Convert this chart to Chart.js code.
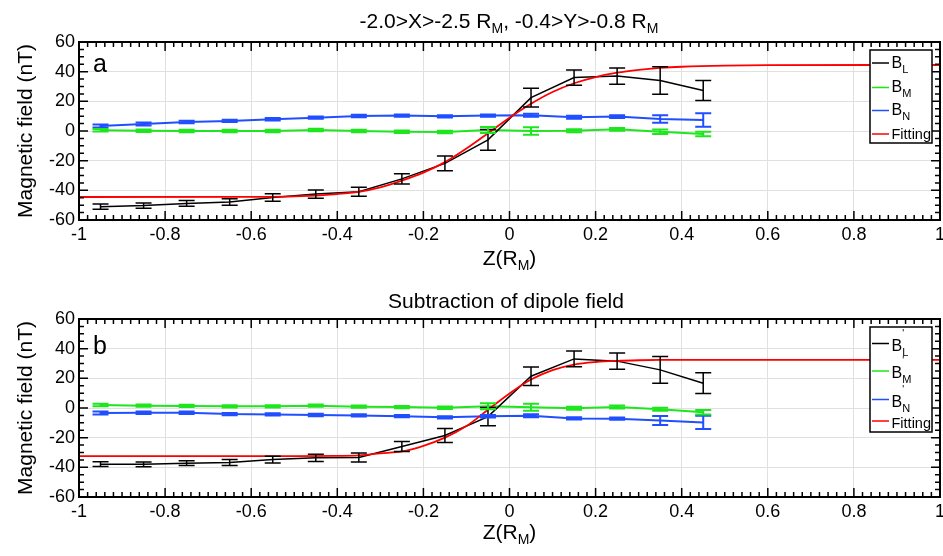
<!DOCTYPE html>
<html>
<head>
<meta charset="utf-8">
<script src="https://cdn.jsdelivr.net/npm/chart.js@4.4.1/dist/chart.umd.min.js"></script>
<style>
  html, body { margin: 0; padding: 0; background: #fff; }
  #wrap { position: relative; width: 943px; height: 556px; }
  #chartA { position: absolute; left: 0; top: 0; }
  #chartB { position: absolute; left: 0; top: 280px; }
</style>
</head>
<body>
<div id="wrap">
  <canvas id="chartA" width="943" height="280"></canvas>
  <canvas id="chartB" width="943" height="276"></canvas>
</div>
<script>
const FONT = "'Liberation Sans', Arial, Helvetica, sans-serif";

// bin centres along Z (R_M)
const zBins = [-0.95, -0.85, -0.75, -0.65, -0.55, -0.45, -0.35, -0.25, -0.15, -0.05, 0.05, 0.15, 0.25, 0.35, 0.45];

// panel a: LMN components
const bL    = [-51, -50.3, -48.8, -47.8, -44.8, -42.5, -41, -32.3, -21.8, -6, 22.5, 36, 37, 34, 27.3];
const bLErr = [1.8, 1.8, 2, 2.2, 2.5, 2.8, 3, 3.5, 5, 7, 6.3, 5.2, 5.4, 9.3, 6.8];
const bM    = [0.5, 0.2, 0, 0, 0, 0.7, 0, -0.5, -0.7, 0.7, 0, 0.2, 1.1, -0.5, -2];
const bMErr = [0.8, 0.8, 0.8, 0.8, 0.8, 0.8, 0.8, 0.8, 0.8, 2, 2.5, 1, 1, 1.5, 1.5];
const bN    = [3.4, 4.7, 6.1, 6.8, 7.9, 9, 10.1, 10.4, 9.9, 10.4, 10.6, 9.2, 9.7, 8.1, 7.4];
const bNErr = [1, 1, 0.8, 0.8, 0.8, 0.8, 0.8, 0.8, 0.8, 0.8, 1, 1, 1, 2.5, 4.5];

// panel b: after dipole subtraction
const bLd    = [-37.9, -38, -37.2, -36.8, -34.8, -33.6, -33.4, -26, -18.5, -5.8, 21.4, 33.1, 31.6, 25.7, 16.7];
const bLdErr = [1.6, 1.6, 1.6, 2, 2.2, 2.5, 3, 3.4, 4.7, 6.2, 6.3, 5.3, 5.5, 9, 7];
const bMd    = [2, 1.6, 1.4, 1.1, 1.1, 1.6, 0.9, 0.6, 0.2, 1.2, 0.5, -0.2, 0.7, -0.9, -2.9];
const bMdErr = [0.8, 0.8, 0.8, 0.8, 0.8, 0.8, 0.8, 0.8, 0.8, 2, 2.3, 1, 1, 1, 1.5];
const bNd    = [-3.4, -3.2, -3.2, -4.1, -4.3, -4.7, -5, -5.5, -6.3, -5.6, -5.2, -7, -7.2, -8.4, -9.7];
const bNdErr = [1, 0.8, 0.8, 0.8, 0.8, 0.8, 0.8, 0.8, 0.8, 0.8, 1, 0.8, 0.8, 3, 4.5];

// fitted current-sheet profiles
const fitZ = [-1, -0.6, -0.5, -0.4, -0.35, -0.3, -0.25, -0.2, -0.15, -0.1, -0.05, 0, 0.05, 0.1, 0.15, 0.2, 0.25, 0.3, 0.35, 0.4, 0.5, 0.6, 1];
const fitA = [-44.5, -44.4, -44.1, -42.5, -41, -38, -33.5, -28.1, -21, -11.8, -1.5, 9, 18.4, 26.3, 32.2, 36.4, 39.3, 41.2, 42.5, 43.3, 44.1, 44.4, 44.5];
const fitB = [-32.5, -32.5, -32.5, -32.3, -32, -30.6, -29.3, -25.5, -20, -12.2, -1.2, 9.8, 19.2, 25.6, 29.3, 31, 31.8, 32.2, 32.4, 32.5, 32.5, 32.5, 32.5];

const xTicks = { min: -1, max: 1, step: 0.2 };
const yTicks = { min: -60, max: 60, step: 20 };

const BLACK = '#000000', GREEN = '#1ee61e', BLUE = '#1f4fff', RED = '#ff0000';

const pts = (xs, ys) => xs.map((x, i) => ({ x, y: ys[i] }));

// draw text made of runs: [text, size, dy, noAdvance]
function drawRich(ctx, parts, x, y, align) {
  let w = 0;
  parts.forEach(([t, s, dy, hold]) => {
    ctx.font = s + 'px ' + FONT;
    if (!hold) w += ctx.measureText(t).width;
  });
  let cx = align === 'center' ? x - w / 2 : x;
  ctx.textBaseline = 'alphabetic';
  ctx.textAlign = 'left';
  parts.forEach(([t, s, dy = 0, hold]) => {
    ctx.font = s + 'px ' + FONT;
    ctx.fillText(t, cx, y + dy);
    if (!hold) cx += ctx.measureText(t).width;
  });
}

const errorBars = {
  id: 'errorBars',
  afterDatasetsDraw(chart) {
    const { ctx, scales: { x, y } } = chart;
    chart.data.datasets.forEach(ds => {
      if (!ds.errors) return;
      ctx.save();
      ctx.strokeStyle = ds.borderColor;
      ctx.lineWidth = ds.borderWidth;
      ds.data.forEach((p, k) => {
        const px = x.getPixelForValue(p.x);
        const hi = y.getPixelForValue(p.y + ds.errors[k]);
        const lo = y.getPixelForValue(p.y - ds.errors[k]);
        ctx.beginPath();
        ctx.moveTo(px, hi); ctx.lineTo(px, lo);
        ctx.moveTo(px - 8, hi); ctx.lineTo(px + 8, hi);
        ctx.moveTo(px - 8, lo); ctx.lineTo(px + 8, lo);
        ctx.stroke();
      });
      ctx.restore();
    });
  }
};

// frame, inward ticks, titles, panel letter and legend
const decor = {
  id: 'decor',
  afterDraw(chart, args, opts) {
    const { ctx, chartArea: a, scales: { x, y } } = chart;
    ctx.save();
    ctx.strokeStyle = '#000';
    ctx.lineWidth = 1.5;
    ctx.beginPath();
    for (let k = 0; k <= 100; k++) {
      const px = x.getPixelForValue(-1 + k * 0.02);
      const len = k % 10 === 0 ? 9 : 5;
      ctx.moveTo(px, a.bottom); ctx.lineTo(px, a.bottom - len);
      ctx.moveTo(px, a.top); ctx.lineTo(px, a.top + len);
    }
    for (let k = 0; k <= 24; k++) {
      const py = y.getPixelForValue(-60 + k * 5);
      const len = k % 4 === 0 ? 9 : 5;
      ctx.moveTo(a.left, py); ctx.lineTo(a.left + len, py);
      ctx.moveTo(a.right, py); ctx.lineTo(a.right - len, py);
    }
    ctx.stroke();
    ctx.lineWidth = 2;
    ctx.strokeRect(a.left, a.top, a.right - a.left, a.bottom - a.top);

    ctx.fillStyle = '#000';
    drawRich(ctx, opts.title, opts.titleX, opts.titleY, 'center');
    drawRich(ctx, [['Z(R', 21], ['M', 14, 5], [')', 21]], (a.left + a.right) / 2, a.bottom + opts.xTitleDy, 'center');
    drawRich(ctx, [[opts.letter, 25]], a.left + 14, a.top + opts.letterDy);

    // legend box
    const L = opts.legend;
    const bx = a.right - 8 - L.w, by = a.top + L.top;
    ctx.fillStyle = '#fff';
    ctx.fillRect(bx, by, L.w, L.h);
    ctx.lineWidth = 1.5;
    ctx.strokeRect(bx, by, L.w, L.h);
    L.rows.forEach((row, i) => {
      const base = by + L.baselines[i];
      ctx.strokeStyle = row.color;
      ctx.lineWidth = 1.5;
      ctx.beginPath();
      ctx.moveTo(bx + 2, base - L.lineLift);
      ctx.lineTo(bx + 19, base - L.lineLift);
      ctx.stroke();
      ctx.fillStyle = '#000';
      drawRich(ctx, row.parts, bx + 21.5, base);
    });
    ctx.restore();
  }
};

function axes(xAxisHeight) {
  const tickFont = { family: FONT, size: 18 };
  return {
    x: {
      type: 'linear', min: xTicks.min, max: xTicks.max,
      ticks: { stepSize: xTicks.step, font: tickFont, color: '#000', padding: 4, maxRotation: 0,
               callback: v => String(Math.round(v * 10) / 10) },
      grid: { color: '#e0e0e0', drawTicks: false },
      border: { display: false },
      afterFit: s => { s.height = xAxisHeight; s.paddingLeft = 0; s.paddingRight = 0; }
    },
    y: {
      type: 'linear', min: yTicks.min, max: yTicks.max,
      ticks: { stepSize: yTicks.step, font: tickFont, color: '#000', padding: 4 },
      grid: { color: '#e0e0e0', drawTicks: false },
      border: { display: false },
      title: { display: true, text: 'Magnetic field (nT)', color: '#000',
               font: { family: FONT, size: 21 }, padding: { top: 14, bottom: 0 } },
      afterFit: s => { s.width = 79; s.paddingTop = 0; s.paddingBottom = 0; }
    }
  };
}

function series(l, lErr, m, mErr, n, nErr, fit) {
  const line = { showLine: true, pointRadius: 0, borderWidth: 1.5, tension: 0, fill: false };
  return [
    { ...line, label: 'Fitting', data: pts(fitZ, fit), borderColor: RED, borderWidth: 1.8,
      cubicInterpolationMode: 'monotone', order: 0 },
    { ...line, label: 'BL', data: pts(zBins, l), errors: lErr, borderColor: BLACK, order: 1 },
    { ...line, label: 'BN', data: pts(zBins, n), errors: nErr, borderColor: BLUE, borderWidth: 2, order: 2 },
    { ...line, label: 'BM', data: pts(zBins, m), errors: mErr, borderColor: GREEN, borderWidth: 2, order: 3 }
  ];
}

function makeChart(id, cfg) {
  return new Chart(document.getElementById(id), {
    type: 'line',
    data: { datasets: cfg.datasets },
    options: {
      responsive: false,
      animation: false,
      layout: { padding: { top: cfg.padTop, right: 3, bottom: 0, left: 0 } },
      scales: axes(cfg.xAxisHeight),
      plugins: { legend: { display: false }, tooltip: { enabled: false }, decor: cfg.decor }
    },
    plugins: [errorBars, decor]
  });
}

makeChart('chartA', {
  padTop: 42,
  xAxisHeight: 60,
  datasets: series(bL, bLErr, bM, bMErr, bN, bNErr, fitA),
  decor: {
    title: [['-2.0>X>-2.5 R', 21], ['M', 14, 5], [', -0.4>Y>-0.8 R', 21], ['M', 14, 5]],
    titleX: 509, titleY: 28, xTitleDy: 45, letter: 'a', letterDy: 30,
    legend: {
      w: 62, h: 93, top: 8, lineLift: 4.5, baselines: [17.5, 42, 65, 88.5],
      rows: [
        { color: BLACK, parts: [['B', 16], ['L', 11, 5]] },
        { color: GREEN, parts: [['B', 16], ['M', 11, 5]] },
        { color: BLUE,  parts: [['B', 16], ['N', 11, 5]] },
        { color: RED,   parts: [['Fitting', 14.5]] }
      ]
    }
  }
});

makeChart('chartB', {
  padTop: 39,
  xAxisHeight: 59,
  datasets: series(bLd, bLdErr, bMd, bMdErr, bNd, bNdErr, fitB),
  decor: {
    title: [['Subtraction of dipole field', 21]],
    titleX: 506, titleY: 28, xTitleDy: 42, letter: 'b', letterDy: 35,
    legend: {
      w: 62, h: 105, top: 8, lineLift: 7, baselines: [23.5, 51, 79.5, 101],
      rows: [
        { color: BLACK, parts: [['B', 16], ["'", 10, -14, true], ['L', 11, 5]] },
        { color: GREEN, parts: [['B', 16], ["'", 10, -14, true], ['M', 11, 5]] },
        { color: BLUE,  parts: [['B', 16], ["'", 10, -14, true], ['N', 11, 5]] },
        { color: RED,   parts: [['Fitting', 14.5]] }
      ]
    }
  }
});
</script>
</body>
</html>
